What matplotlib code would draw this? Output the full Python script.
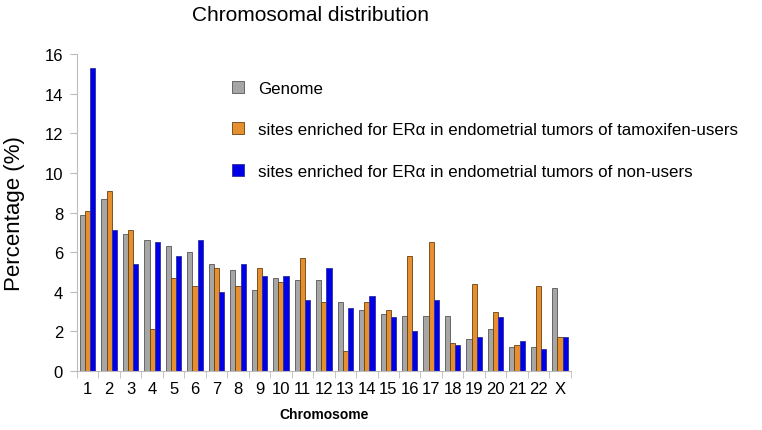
import matplotlib.pyplot as plt
import numpy as np
from matplotlib.patches import Patch

plt.rcParams['font.family'] = ['Liberation Sans', 'DejaVu Sans']

chromosomes = [str(i) for i in range(1, 23)] + ["X"]
genome = [7.9, 8.7, 6.9, 6.6, 6.3, 6.0, 5.4, 5.1, 4.1, 4.7, 4.6, 4.6,
          3.5, 3.1, 2.9, 2.8, 2.8, 2.8, 1.6, 2.1, 1.2, 1.2, 4.2]
tamoxifen = [8.1, 9.1, 7.1, 2.1, 4.7, 4.3, 5.2, 4.3, 5.2, 4.5, 5.7, 3.5,
             1.0, 3.5, 3.1, 5.8, 6.5, 1.4, 4.4, 3.0, 1.3, 4.3, 1.7]
non_users = [15.3, 7.1, 5.4, 6.5, 5.8, 6.6, 4.0, 5.4, 4.8, 4.8, 3.6, 5.2,
             3.2, 3.8, 2.7, 2.0, 3.6, 1.3, 1.7, 2.7, 1.5, 1.1, 1.7]
labels = ["Genome",
          "sites enriched for ERα in endometrial tumors of tamoxifen-users",
          "sites enriched for ERα in endometrial tumors of non-users"]
colors = ["#a6a6a6", "#e58f2f", "#0000e6"]
edges = ["#555555", "#6b4010", "#3030a0"]

fig = plt.figure(figsize=(7.62, 4.31), dpi=100)
ax = fig.add_axes([0.101, 0.137, 0.648, 0.735])

x = np.arange(len(chromosomes))
w = 0.24
for i, (vals, c, e) in enumerate(zip([genome, tamoxifen, non_users], colors, edges)):
    ax.bar(x + (i - 1) * w, vals, w, color=c, edgecolor=e, linewidth=0.6)

ax.set_xlim(-0.5, len(chromosomes) - 0.5)
ax.set_ylim(0, 16)
ax.set_yticks(range(0, 17, 2))
ax.set_xticks(x)
ax.set_xticklabels(chromosomes, fontsize=12)
ax.set_xticks(np.arange(-0.5, len(chromosomes), 1), minor=True)
ax.tick_params(axis="x", which="major", length=0, pad=7)
ax.tick_params(axis="x", which="minor", length=5, color="#bbbbbb")
ax.tick_params(axis="y", labelsize=12, length=5, color="#bbbbbb", pad=5)
for s in ["top", "right"]:
    ax.spines[s].set_visible(False)
for s in ["left", "bottom"]:
    ax.spines[s].set_color("#bbbbbb")

ax.set_ylabel("Percentage (%)", fontsize=16, labelpad=14)
ax.set_xlabel("Chromosome", fontsize=10, fontweight="bold", labelpad=8)
fig.text(0.407, 0.965, "Chromosomal distribution", fontsize=15, ha="center", va="center")

handles = [Patch(facecolor=c, edgecolor=e, linewidth=0.6) for c, e in zip(colors, edges)]
fig.legend(handles, labels, loc="upper left", bbox_to_anchor=(0.285, 0.845),
           frameon=False, fontsize=12.2, handlelength=0.7, handleheight=0.7,
           handletextpad=0.8, labelspacing=1.55)

fig.savefig("out.png", dpi=100)
